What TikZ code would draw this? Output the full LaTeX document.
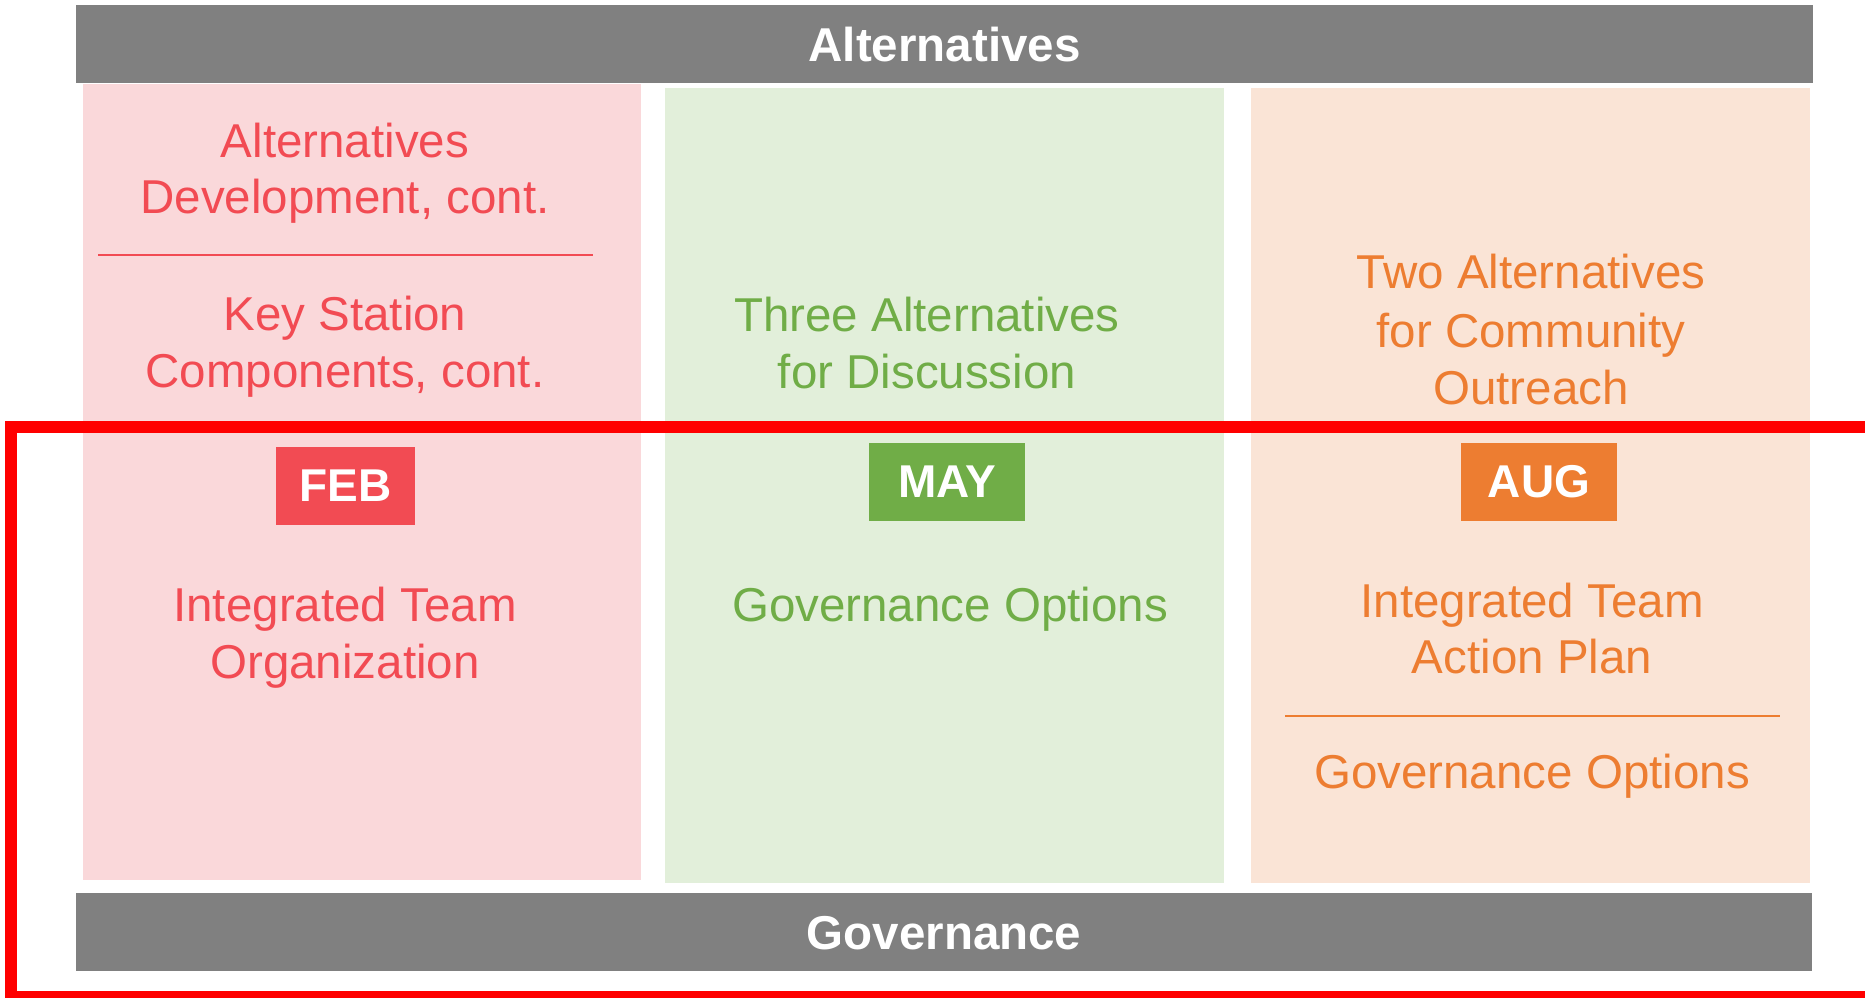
\documentclass[tikz,border=0pt]{standalone}
\usepackage{fontspec}
\setmainfont{Liberation Sans}
\definecolor{barGray}{RGB}{128,128,128}
\definecolor{redT}{RGB}{242,75,83}
\definecolor{redBg}{RGB}{250,216,218}
\definecolor{grnT}{RGB}{112,173,71}
\definecolor{grnBg}{RGB}{226,239,218}
\definecolor{orgT}{RGB}{237,125,49}
\definecolor{orgBg}{RGB}{250,228,214}
\begin{document}
\begin{tikzpicture}[x=1pt,y=-1pt,
  bartext/.style={font=\fontsize{47.5}{57}\selectfont\bfseries, text=white, inner sep=0pt, anchor=base},
  txt/.style={font=\fontsize{47.5}{57}\selectfont, inner sep=0pt, anchor=base},
  badge/.style={font=\fontsize{46}{55}\selectfont\bfseries, text=white, inner sep=0pt, minimum width=156pt, minimum height=78pt},
  divider/.style={line width=1.5pt}
]
\useasboundingbox (0,0) rectangle (1865,997);
\fill[white] (0,0) rectangle (1865,997);
\begin{scope}
\clip (0,0) rectangle (1865,997);
% column backgrounds
\fill[redBg] (83,84) rectangle (641,880);
\fill[grnBg] (665,88) rectangle (1224,883);
\fill[orgBg] (1251,88) rectangle (1810,883);
% bars
\fill[barGray] (76,5) rectangle (1813,83);
\fill[barGray] (76,893) rectangle (1812,971);
\node[bartext] (alt) at (944.5,61) {Alternatives};
\node[bartext] (gov) at (944,949) {Governance};
% pink column
\node[txt, text=redT] (p1) at (345,157) {Alternatives};
\node[txt, text=redT] (p2) at (345,213) {Development, cont.};
\coordinate (pdl) at (98,255);
\coordinate (pdr) at (593,255);
\draw[divider, redT] (pdl) -- (pdr);
\node[txt, text=redT] (p3) at (345,330) {Key Station};
\node[txt, text=redT] (p4) at (345,387) {Components, cont.};
\node[badge, fill=redT, minimum width=139pt] (feb) at (345.5,486) {FEB};
\node[txt, text=redT] (p5) at (345,621) {Integrated Team};
\node[txt, text=redT] (p6) at (345,678) {Organization};
% green column
\node[txt, text=grnT] (g1) at (927,331) {Three Alternatives};
\node[txt, text=grnT] (g2) at (927,388) {for Discussion};
\node[badge, fill=grnT] (may) at (947,482) {MAY};
\node[txt, text=grnT] (g3) at (950,621) {Governance Options};
% orange column
\node[txt, text=orgT] (o1) at (1531,288) {Two Alternatives};
\node[txt, text=orgT] (o2) at (1531,347) {for Community};
\node[txt, text=orgT] (o3) at (1531,404) {Outreach};
\node[badge, fill=orgT] (aug) at (1539,482) {AUG};
\node[txt, text=orgT] (o4) at (1532,617) {Integrated Team};
\node[txt, text=orgT] (o5) at (1532,673) {Action Plan};
\coordinate (odl) at (1285,716);
\coordinate (odr) at (1780,716);
\draw[divider, orgT] (odl) -- (odr);
\node[txt, text=orgT] (o6) at (1532,788) {Governance Options};
% red highlight frame
\draw[red, line width=12pt] (11,426.5) rectangle (1900,996.7);
\end{scope}
\end{tikzpicture}
\end{document}
